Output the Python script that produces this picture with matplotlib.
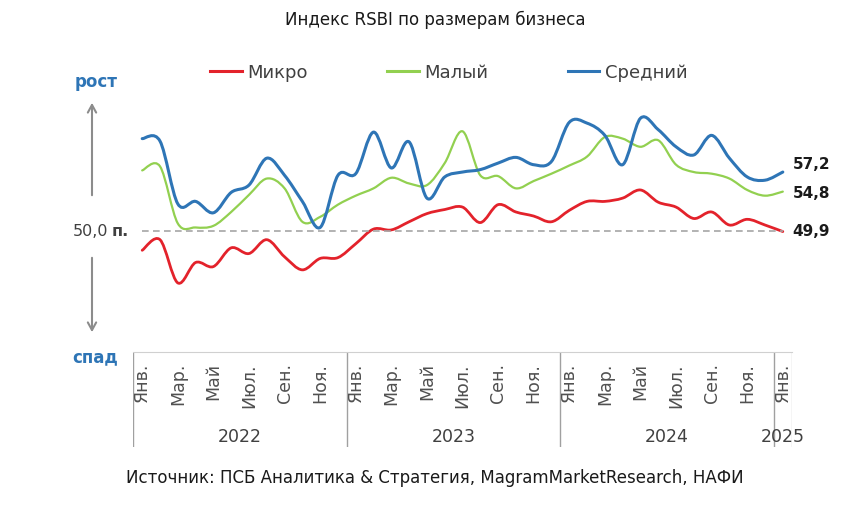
import matplotlib
matplotlib.use("Agg")
from matplotlib import pyplot as plt
from matplotlib.path import Path
from matplotlib.patches import PathPatch
from matplotlib.lines import Line2D

plt.rcParams["font.family"] = ["DejaVu Sans"]

# monthly RSBI values, Jan 2022 .. Jan 2025
mikro = [47.6, 48.9, 43.6, 46.1, 45.6, 47.9, 47.2, 48.9, 46.8, 45.2, 46.6, 46.7,
         48.4, 50.2, 50.1, 51.1, 52.1, 52.6, 52.9, 51.0, 53.2, 52.3, 51.8, 51.1,
         52.5, 53.6, 53.6, 54.0, 55.0, 53.5, 52.9, 51.5, 52.3, 50.7, 51.4, 50.7,
         49.9]
maly = [57.4, 57.9, 50.9, 50.4, 50.6, 52.3, 54.4, 56.4, 55.2, 51.1, 51.7, 53.2,
        54.3, 55.2, 56.5, 55.8, 55.6, 58.3, 62.2, 56.8, 56.7, 55.2, 56.1, 57.0,
        58.0, 59.1, 61.5, 61.3, 60.3, 61.1, 58.1, 57.2, 57.0, 56.4, 55.0, 54.3,
        54.8]
sredniy = [61.3, 61.0, 53.3, 53.6, 52.2, 54.7, 55.6, 58.9, 56.8, 53.6, 50.4, 56.8,
           57.0, 62.1, 57.7, 60.9, 54.0, 56.6, 57.2, 57.5, 58.3, 59.0, 58.1, 58.5,
           63.3, 63.2, 61.7, 58.1, 63.8, 62.4, 60.3, 59.3, 61.7, 58.9, 56.6, 56.2,
           57.2]

month_labels = ["Янв.", "", "Мар.", "", "Май", "", "Июл.", "", "Сен.", "", "Ноя.", ""] * 3 + ["Янв."]
years = ["2022", "2023", "2024", "2025"]
year_len = [12, 12, 12, 1]

series = [("Микро", mikro, "#E3222B", 2.0),
          ("Малый", maly, "#92D050", 1.6),
          ("Средний", sredniy, "#2E75B6", 2.2)]

W, H = 857, 517
fig = plt.figure(figsize=(W / 100, H / 100), dpi=100)
ax = fig.add_axes([133.3 / W, 1 - 352 / H, 658.4 / W, 252 / H])
ax.set_xlim(-0.5, 36.5)
ax.set_ylim(35.12, 66.04)
ax.axis("off")


def smooth_path(ys):
    # excel-like smoothed line: cubic bezier through every point
    pts = list(enumerate(ys))
    n = len(pts)
    verts = [pts[0]]
    codes = [Path.MOVETO]
    for i in range(n - 1):
        p0 = pts[max(i - 1, 0)]
        p1 = pts[i]
        p2 = pts[i + 1]
        p3 = pts[min(i + 2, n - 1)]
        c1 = (p1[0] + (p2[0] - p0[0]) / 6, p1[1] + (p2[1] - p0[1]) / 6)
        c2 = (p2[0] - (p3[0] - p1[0]) / 6, p2[1] - (p3[1] - p1[1]) / 6)
        verts += [c1, c2, p2]
        codes += [Path.CURVE4] * 3
    return Path(verts, codes)


ax.hlines(50, 0, len(mikro) - 1, colors="#A6A6A6", linestyles=(0, (4, 2.6)), lw=1.2)

handles = []
for name, ys, col, lw in series:
    ax.add_patch(PathPatch(smooth_path(ys), fill=False, edgecolor=col, lw=lw,
                           capstyle="round", joinstyle="round"))
    handles.append(Line2D([], [], color=col, lw=2.2))

# end values
offsets = [0, -1.5, 8]
for (name, ys, col, lw), dy in zip(series, offsets):
    ax.annotate(f"{ys[-1]:.1f}".replace(".", ","), xy=(len(ys) - 1, ys[-1]),
                xytext=(10, dy), textcoords="offset pixels", ha="left", va="center",
                fontsize=11, fontweight="bold", color="#1a1a1a", annotation_clip=False)

leg = fig.legend(handles, [s[0] for s in series], loc="center",
                 bbox_to_anchor=(449 / W, 1 - 72.7 / H), ncol=3, frameon=False,
                 fontsize=13, handlelength=1.75, handletextpad=0.3,
                 columnspacing=4.4, borderpad=0)
for t in leg.get_texts():
    t.set_color("#404040")

# category axis box
ax2 = fig.add_axes([133.3 / W, 70 / H, 658.4 / W, 95 / H])
ax2.set_xlim(-0.5, 36.5)
ax2.set_ylim(0, 1)
ax2.set_xticks([])
ax2.set_yticks([])
for s in ["bottom", "left", "right"]:
    ax2.spines[s].set_visible(False)
ax2.spines["top"].set_color("#D0D0D0")
ax2.patch.set_alpha(0)

start = -0.5
for yr, n in zip(years, year_len):
    ax2.axvline(start, color="#A0A0A0", lw=1)
    ax2.text(start + n / 2, 0.105, yr, ha="center", va="center", fontsize=12.5,
             color="#404040")
    start += n
ax2.axvline(start, color="#D0D0D0", lw=1)

for i, lab in enumerate(month_labels):
    if lab:
        ax2.text(i, 1 - 11 / 95, lab, rotation=90, ha="center", va="top",
                 fontsize=12.5, color="#505050")

# left side annotations
fig.text(96 / W, 1 - 82 / H, "рост", ha="center", va="center", fontsize=12,
         fontweight="bold", color="#2E75B6")
fig.text(95 / W, 1 - 357 / H, "спад", ha="center", va="center", fontsize=12,
         fontweight="bold", color="#2E75B6")
fig.text(108 / W, 1 - 231 / H, "50,0", ha="right", va="center", fontsize=11.5,
         color="#404040")
fig.text(112 / W, 1 - 231 / H, "п.", ha="left", va="center", fontsize=11.5,
         fontweight="bold", color="#404040")
arrow = dict(arrowstyle="->,head_length=0.55,head_width=0.3", color="#8C8C8C", lw=1.5)
ax.annotate("", xy=(92, H - 100), xytext=(92, H - 198), xycoords="figure pixels",
            textcoords="figure pixels", arrowprops=arrow)
ax.annotate("", xy=(92, H - 335), xytext=(92, H - 255), xycoords="figure pixels",
            textcoords="figure pixels", arrowprops=arrow)

fig.text(435 / W, 1 - 20 / H, "Индекс RSBI по размерам бизнеса", ha="center",
         va="center", fontsize=12, color="#1a1a1a")
fig.text(435 / W, 1 - 478 / H,
         "Источник: ПСБ Аналитика & Стратегия, MagramMarketResearch, НАФИ",
         ha="center", va="center", fontsize=12, color="#1a1a1a")

fig.savefig("out.png", dpi=100)
